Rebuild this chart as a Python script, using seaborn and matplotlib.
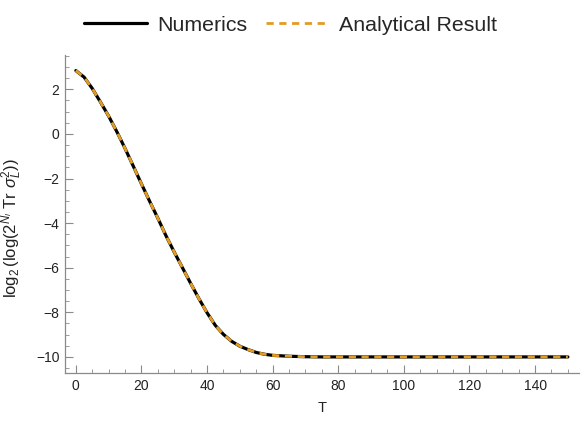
import numpy as np
import pandas as pd
import matplotlib
matplotlib.use("Agg")
import matplotlib.pyplot as plt
from matplotlib.ticker import MultipleLocator
import seaborn as sns

# --- datos ---
T_vals = [0, 2.5, 5, 7.5, 10, 12.5, 15, 17.5, 20, 22.5, 25, 27.5, 30, 32.5, 35,
          37.5, 40, 42.5, 45, 47.5, 50, 52.5, 55, 57.5, 60, 65, 70, 75, 80,
          90, 100, 110, 120, 130, 140, 150]
numerics = [2.84, 2.55, 2.04, 1.43, 0.80, 0.10, -0.65, -1.44, -2.24, -3.02,
            -3.78, -4.57, -5.30, -6.00, -6.70, -7.38, -8.02, -8.58, -8.99,
            -9.30, -9.52, -9.67, -9.80, -9.88, -9.93, -9.97, -9.99, -10.0,
            -10.0, -10.0, -10.0, -10.0, -10.0, -10.0, -10.0, -10.0]
analytical = list(numerics)

ORANGE = "#E19C24"
GRAY = "#8a8a8a"

sns.set_theme(style="ticks")
plt.rcParams['font.family'] = ['Liberation Sans', 'DejaVu Sans']
plt.rcParams['mathtext.fontset'] = 'custom'
plt.rcParams['mathtext.rm'] = 'Liberation Sans'
plt.rcParams['mathtext.it'] = 'Liberation Sans:italic'
plt.rcParams['mathtext.sf'] = 'Liberation Sans'

df = pd.DataFrame({'T': T_vals, 'num': numerics, 'ana': analytical})

fig = plt.figure(figsize=(5.81, 4.25), dpi=100)
ax = fig.add_axes([0.1119, 0.1224, 0.8847, 0.7482])

sns.lineplot(data=df, x='T', y='num', ax=ax, color='black', lw=2.3,
             label='Numerics')
sns.lineplot(data=df, x='T', y='ana', ax=ax, color=ORANGE, lw=2.0,
             linestyle=(0, (2.6, 2.0)), label='Analytical Result')

ax.set_xlim(-3.3, 153.4)
ax.set_ylim(-10.72, 3.54)
ax.xaxis.set_major_locator(MultipleLocator(20))
ax.xaxis.set_minor_locator(MultipleLocator(5))
ax.yaxis.set_major_locator(MultipleLocator(2))
ax.yaxis.set_minor_locator(MultipleLocator(0.5))

for s in ['top', 'right']:
    ax.spines[s].set_visible(False)
for s in ['left', 'bottom']:
    ax.spines[s].set_color(GRAY)
    ax.spines[s].set_linewidth(0.9)

ax.tick_params(which='major', direction='in', length=5.5, width=0.8,
               color=GRAY, labelsize=10, labelcolor='#222222', pad=4)
ax.tick_params(which='minor', direction='in', length=3, width=0.6, color=GRAY)

ax.set_xlabel('T', fontsize=10.5, color='#222222', labelpad=6)
ax.set_ylabel(r'$\log_2(\log(2^{N_l}\ \mathrm{Tr}\ \sigma_L^2))$', fontsize=12,
              color='#222222')
ax.yaxis.set_label_coords(-0.080, 0.455)

ax.get_legend().remove()
h, l = ax.get_legend_handles_labels()
fig.legend(h, l, loc='upper center', bbox_to_anchor=(0.5, 1.008), ncol=2,
           frameon=False, fontsize=15.4, handlelength=2.95, handletextpad=0.47,
           columnspacing=0.84)

fig.savefig('out.png', dpi=100)
